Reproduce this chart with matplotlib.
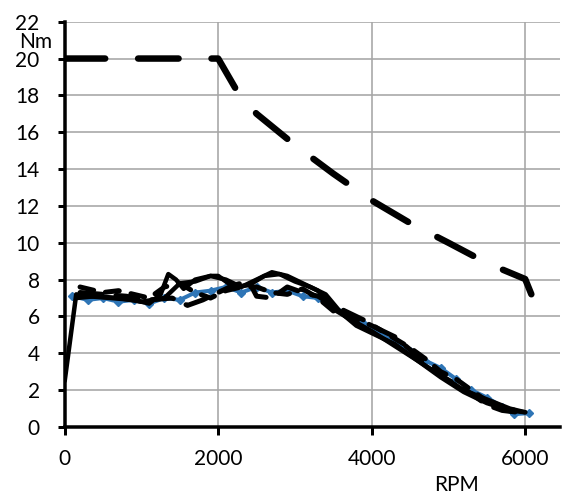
import matplotlib
matplotlib.use("Agg")
import matplotlib.pyplot as plt

plt.rcParams['font.family'] = ['Lato', 'DejaVu Sans']
plt.rcParams['lines.scale_dashes'] = False

# Max torque envelope (long dash)
max_rpm = [0, 500, 1000, 1500, 2000, 2250, 2500, 3000, 3500, 4000, 4500, 5000, 5500, 6000, 6100]
max_nm = [20, 20, 20, 20, 20, 18.2, 17.0, 15.3, 13.75, 12.3, 11.07, 10.0, 8.9, 8.03, 7.0]

# Blue measured series (diamond markers)
blue_rpm = [100, 300, 500, 700, 900, 1100, 1300, 1500, 1700, 1900, 2100, 2300, 2500, 2700, 2900,
            3100, 3300, 3500, 3700, 3900, 4100, 4300, 4500, 4700, 4900, 5100, 5300, 5500, 5700, 5850, 6050]
blue_nm = [7.1, 6.9, 7.0, 6.8, 6.9, 6.7, 7.0, 6.9, 7.3, 7.4, 7.6, 7.3, 7.6, 7.3, 7.4,
           7.1, 7.0, 6.5, 6.1, 5.6, 5.1, 4.6, 4.1, 3.6, 3.2, 2.6, 2.0, 1.6, 1.1, 0.7, 0.75]

# Black solid A
solid_a_rpm = [0, 150, 300, 600, 900, 1100, 1250, 1350, 1450, 1550, 1700, 1900, 2100, 2300, 2500,
               2700, 2900, 3100, 3300, 3500, 3700, 4000, 4300, 4600, 4900, 5200, 5500, 5800, 6000]
solid_a_nm = [2.5, 7.2, 7.1, 7.0, 6.9, 6.7, 7.2, 8.3, 8.0, 7.5, 8.0, 8.2, 8.0, 7.6, 8.0,
              8.4, 8.2, 7.8, 7.4, 6.4, 5.9, 5.2, 4.4, 3.6, 2.8, 2.0, 1.5, 1.0, 0.8]

# Black solid B
solid_b_rpm = [150, 400, 700, 1000, 1300, 1500, 1700, 1900, 2000, 2200, 2400, 2600, 2800, 3000,
               3200, 3400, 3600, 3800, 4000, 4300, 4600, 4900, 5200, 5500, 5800, 6000]
solid_b_nm = [7.0, 7.1, 7.0, 6.8, 7.0, 7.8, 7.9, 8.2, 8.2, 7.6, 7.7, 8.2, 8.3, 7.9,
              7.6, 7.2, 6.2, 5.5, 5.1, 4.5, 3.6, 2.7, 1.9, 1.3, 0.9, 0.8]

# Black dashed C
dash_c_rpm = [200, 500, 700, 900, 1100, 1300, 1500, 1700, 1900, 2100, 2300, 2500, 2700, 2900,
              3100, 3300, 3500, 3700, 3900, 4100, 4300, 4500, 4700, 4900, 5100, 5300, 5500, 5700, 5900]
dash_c_nm = [7.6, 7.3, 7.4, 7.2, 7.0, 7.6, 7.8, 7.3, 7.0, 7.4, 7.6, 7.6, 7.3, 7.2,
             7.5, 7.0, 6.3, 6.0, 5.7, 5.3, 4.8, 4.3, 3.7, 3.0, 2.6, 2.0, 1.4, 1.0, 0.9]

# Black dashed D
dash_d_rpm = [200, 500, 800, 1100, 1400, 1600, 1800, 2000, 2200, 2400, 2500, 2700, 2900, 3100,
              3300, 3500, 3700, 3900, 4100, 4300, 4500, 4700, 4900, 5100, 5300, 5500, 5700, 5900]
dash_d_nm = [7.3, 7.2, 7.1, 6.9, 7.0, 6.6, 6.9, 7.3, 7.7, 7.9, 7.1, 7.0, 7.6, 7.3,
             7.1, 6.6, 6.2, 5.8, 5.3, 4.9, 4.2, 3.4, 2.8, 2.3, 1.8, 1.2, 0.9, 0.8]

x_ticks = [0, 2000, 4000, 6000]
y_ticks = list(range(0, 23, 2))

W, H = 562, 495
fig = plt.figure(figsize=(W / 100, H / 100), dpi=100)
ax = fig.add_axes([64.7 / W, 1 - 427 / H, (560 - 64.7) / W, (427 - 21.7) / H])

px = 72 / 100  # points per pixel

ax.plot(blue_rpm, blue_nm, color='#2E75B6', lw=4 * px, marker='D', ms=6 * px,
        mec='#2E75B6', mfc='#2E75B6', zorder=3)
ax.plot(solid_a_rpm, solid_a_nm, color='black', lw=4.5 * px, solid_capstyle='round',
        solid_joinstyle='round', zorder=4)
ax.plot(solid_b_rpm, solid_b_nm, color='black', lw=4.5 * px, solid_capstyle='round',
        solid_joinstyle='round', zorder=4)
l3, = ax.plot(dash_c_rpm, dash_c_nm, color='black', lw=5 * px, dash_capstyle='round', zorder=4)
l3.set_dashes((14 * px, 12 * px))
l4, = ax.plot(dash_d_rpm, dash_d_nm, color='black', lw=5 * px, dash_capstyle='round', zorder=4)
l4.set_dashes((22 * px, 14 * px))
lm, = ax.plot(max_rpm, max_nm, color='black', lw=6.5 * px, dash_capstyle='round',
              dash_joinstyle='round', zorder=5)
lm.set_linestyle((0, (40.5 * px, 32.9 * px)))

ax.set_xlim(0, (560 - 64.7) / 0.07675)
ax.set_ylim(0, 22)
ax.set_xticks(x_ticks)
ax.set_yticks(y_ticks)
ax.grid(True, color='#A6A6A6', lw=1.6 * px)
ax.set_axisbelow(True)
for s in ['top', 'right']:
    ax.spines[s].set_visible(False)
for s in ['left', 'bottom']:
    ax.spines[s].set_linewidth(3.5 * px)
    ax.spines[s].set_color('black')
ax.tick_params(axis='y', direction='out', length=7 * px, width=3 * px, pad=13, labelsize=15)
ax.tick_params(axis='x', direction='out', length=8 * px, width=3 * px, pad=10, labelsize=15)

fig.text(36 / W, 1 - 41.5 / H, 'Nm', ha='center', va='center', fontsize=15)
fig.text(457 / W, 1 - 485 / H, 'RPM', ha='center', va='center', fontsize=15)

fig.savefig('out.png', dpi=100)
